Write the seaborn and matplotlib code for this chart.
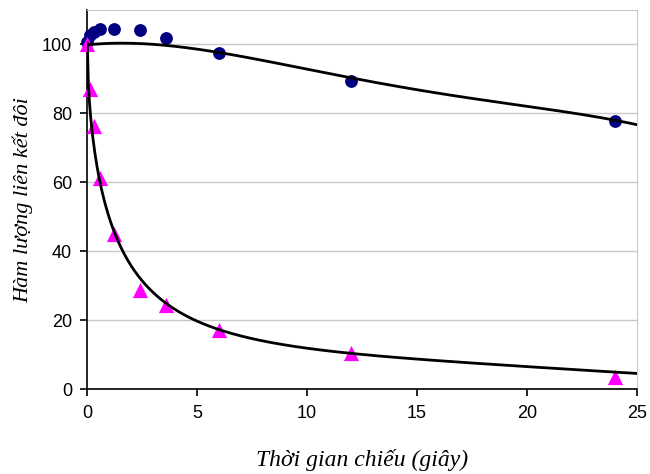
import numpy as np
import pandas as pd
import matplotlib
matplotlib.use("Agg")
import matplotlib.pyplot as plt
import seaborn as sns

# ---- data ----
time_s = [0, 0.12, 0.3, 0.6, 1.2, 2.4, 3.6, 6, 12, 24]
series_circle = [100.7, 102.6, 103.6, 104.4, 104.6, 104.2, 102.0, 97.6, 89.4, 77.7]
series_triangle = [100.0, 87.1, 76.4, 61.4, 44.9, 28.9, 24.5, 17.3, 10.5, 3.7]

# trend-curve anchor values
upper_trend_x = [0, 0.5, 1.8, 4.2, 6, 7.85, 12.07, 14.8, 20, 24.9]
upper_trend_y = [99.8, 100.1, 100.5, 99.6, 97.5, 95.2, 90.3, 87.3, 81.9, 76.9]
lower_trend_x = [0, 0.32, 0.58, 1.56, 4.21, 4.82, 6, 7.85, 12, 15, 20, 25]
lower_trend_y = [100, 69.6, 61.4, 40, 22.6, 20, 17.3, 13.9, 10.9, 8.7, 6.4, 4.65]

x_ticks = [0, 5, 10, 15, 20, 25]
y_ticks = [0, 20, 40, 60, 80, 100]
x_label = "Thời gian chiếu (giây)"
y_label = "Hàm lượng liên kết đôi"

# ---- figure ----
sns.set_style("white")
plt.rcParams['font.family'] = ['Liberation Sans', 'DejaVu Sans']

fig = plt.figure(figsize=(6.5, 4.74), dpi=100)
ax = fig.add_axes([0.1343, 0.1787, 0.8457, 0.8003])

# trend curves
xx = np.linspace(0, 25, 500)
cu = np.polyfit(upper_trend_x, upper_trend_y, 4)
yu = np.polyval(cu, xx)
cl = np.polyfit(np.sqrt(lower_trend_x), np.log(lower_trend_y), 4)
yl = np.exp(np.polyval(cl, np.sqrt(xx)))

df = pd.DataFrame({"t": time_s, "a": series_circle, "b": series_triangle})

sns.scatterplot(data=df, x="t", y="a", ax=ax, marker="o", s=85,
                color="#000080", edgecolor="#000080", linewidth=0, zorder=3,
                clip_on=False)
sns.scatterplot(data=df, x="t", y="b", ax=ax, marker="^", s=120,
                color="#FF00FF", edgecolor="#FF00FF", linewidth=0, zorder=3,
                clip_on=False)
sns.lineplot(x=xx, y=yu, ax=ax, color="black", linewidth=2, zorder=4, sort=False)
sns.lineplot(x=xx, y=yl, ax=ax, color="black", linewidth=2, zorder=4, sort=False)

ax.set_xlim(0, 25)
ax.set_ylim(0, 110)
ax.set_xticks(x_ticks)
ax.set_yticks(y_ticks)
ax.set_xticklabels([str(v) for v in x_ticks], fontsize=13, color='black')
ax.set_yticklabels([str(v) for v in y_ticks], fontsize=13, color='black')

for v in y_ticks[1:]:
    ax.axhline(v, color="#c8c8c8", linewidth=1, zorder=0)

ax.spines['left'].set_color('black')
ax.spines['bottom'].set_color('black')
ax.spines['left'].set_linewidth(1.2)
ax.spines['bottom'].set_linewidth(1.2)
ax.spines['top'].set_color('#c8c8c8')
ax.spines['right'].set_color('#c8c8c8')
ax.tick_params(axis='both', direction='out', length=5, width=1.2, color='black',
               bottom=True, left=True, pad=6)

ax.set_xlabel(x_label, fontsize=17, fontstyle='italic', color='black',
              family=['Liberation Serif', 'DejaVu Serif'], labelpad=20)
ax.set_ylabel(y_label, fontsize=16, fontstyle='italic', color='black',
              family=['Liberation Serif', 'DejaVu Serif'], labelpad=6)

fig.savefig("out.png", dpi=100)
